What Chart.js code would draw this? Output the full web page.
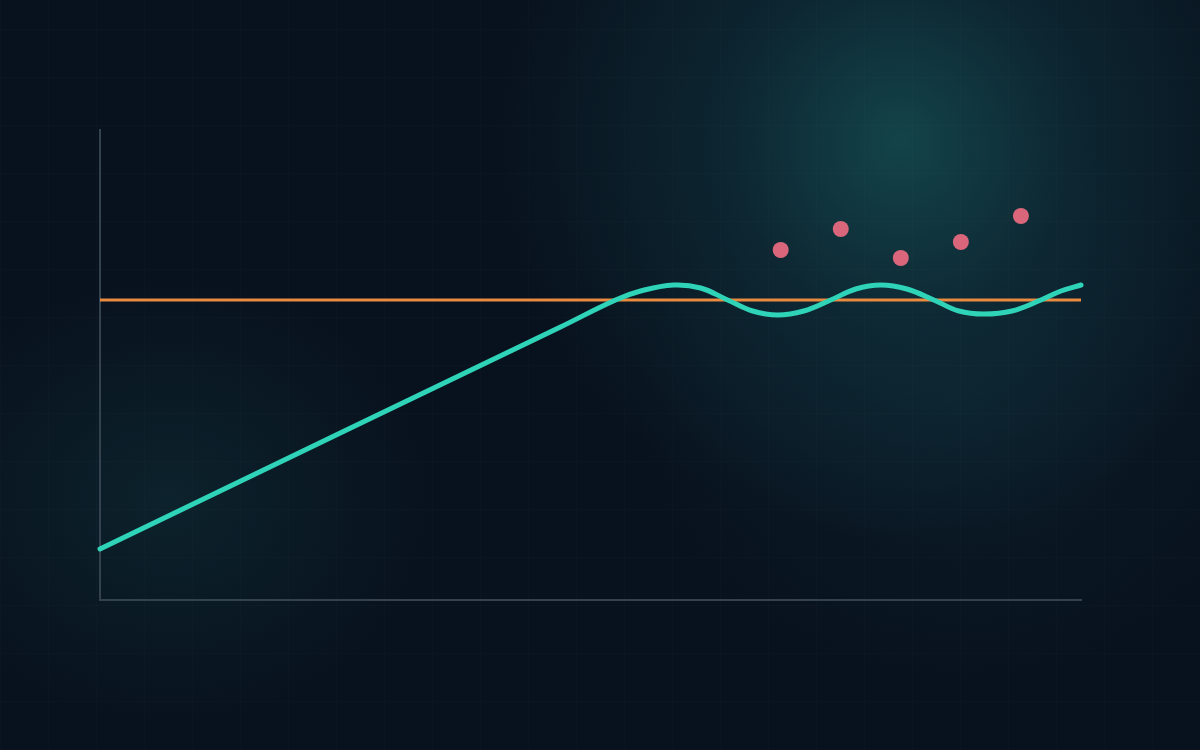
<!DOCTYPE html>
<html lang="en">
<head>
    <meta charset="UTF-8">
    <title>Line approaching target</title>
    <style>
        html, body { margin: 0; padding: 0; }
        body {
            width: 1200px;
            height: 750px;
            overflow: hidden;
            background-color: #08121e;
            background-image:
                radial-gradient(circle at 900px 140px, rgba(24, 88, 92, 0.7) 0px, rgba(18, 60, 70, 0.45) 180px, rgba(10, 30, 42, 0) 400px),
                radial-gradient(ellipse 260px 220px at 170px 500px, rgba(16, 50, 58, 0.5), rgba(8, 18, 30, 0)),
                radial-gradient(ellipse 320px 280px at 960px 400px, rgba(14, 40, 52, 0.5), rgba(8, 18, 30, 0));
        }
        .grid {
            position: absolute; left: 0; top: 0; width: 1200px; height: 750px;
            background-image:
                repeating-linear-gradient(90deg, rgba(255,255,255,0.013) 0px, rgba(255,255,255,0.013) 1px, transparent 1px, transparent 48px),
                repeating-linear-gradient(0deg, rgba(255,255,255,0.01) 0px, rgba(255,255,255,0.01) 1px, transparent 1px, transparent 48px);
        }
        .wrap { position: absolute; left: 0; top: 0; width: 1200px; height: 750px; }
    </style>
</head>
<body>
    <div class="grid"></div>
    <div class="wrap"><canvas id="chart"></canvas></div>
    <script src="https://cdn.jsdelivr.net/npm/chart.js"></script>
    <script>
        // series values (x: 0..98, y: 0..47)
        const actualX = [0, 24, 46, 51.5, 54, 57.3, 60, 62.7, 65.2, 67.7, 70.3, 73, 75.5, 78, 80.6, 83.3, 85.8, 88.3, 91.1, 94, 96, 98];
        const actualY = [5.1, 16.7, 27.3, 30.0, 30.9, 31.5, 31.2, 30.0, 28.9, 28.5, 28.9, 30.0, 31.1, 31.5, 31.1, 30.0, 28.9, 28.6, 28.9, 30.0, 30.9, 31.5];
        const targetX = [0, 98];
        const targetY = [30.0, 30.0];
        const dotsX = [68, 74, 80, 86, 92];
        const dotsY = [35.0, 37.1, 34.2, 35.8, 38.4];

        const toPoints = (xs, ys) => xs.map((x, i) => ({ x: x, y: ys[i] }));

        const config = {
            type: 'line',
            data: {
                datasets: [
                    {
                        label: 'Target',
                        data: toPoints(targetX, targetY),
                        borderColor: '#e88a3f',
                        borderWidth: 3,
                        pointRadius: 0,
                        order: 2
                    },
                    {
                        label: 'Actual',
                        data: toPoints(actualX, actualY),
                        borderColor: '#2fd4b8',
                        borderWidth: 5,
                        borderCapStyle: 'round',
                        tension: 0.4,
                        pointRadius: 0,
                        order: 1
                    },
                    {
                        label: 'Samples',
                        type: 'scatter',
                        data: toPoints(dotsX, dotsY),
                        backgroundColor: '#d9667b',
                        borderWidth: 0,
                        pointRadius: 8,
                        order: 0
                    }
                ]
            },
            options: {
                responsive: false,
                animation: false,
                clip: false,
                layout: { padding: { left: 92, right: 119, top: 130, bottom: 142 } },
                plugins: {
                    legend: { display: false },
                    tooltip: { enabled: false }
                },
                scales: {
                    x: {
                        type: 'linear',
                        min: 0,
                        max: 98,
                        grid: { display: false },
                        ticks: { display: false },
                        border: { display: true, color: '#34424f', width: 2 }
                    },
                    y: {
                        min: 0,
                        max: 47,
                        grid: { display: false },
                        ticks: { display: false },
                        border: { display: true, color: '#34424f', width: 2 }
                    }
                }
            }
        };

        const canvas = document.getElementById('chart');
        canvas.width = 1200;
        canvas.height = 750;
        const chart = new Chart(canvas, config);
    </script>
</body>
</html>
